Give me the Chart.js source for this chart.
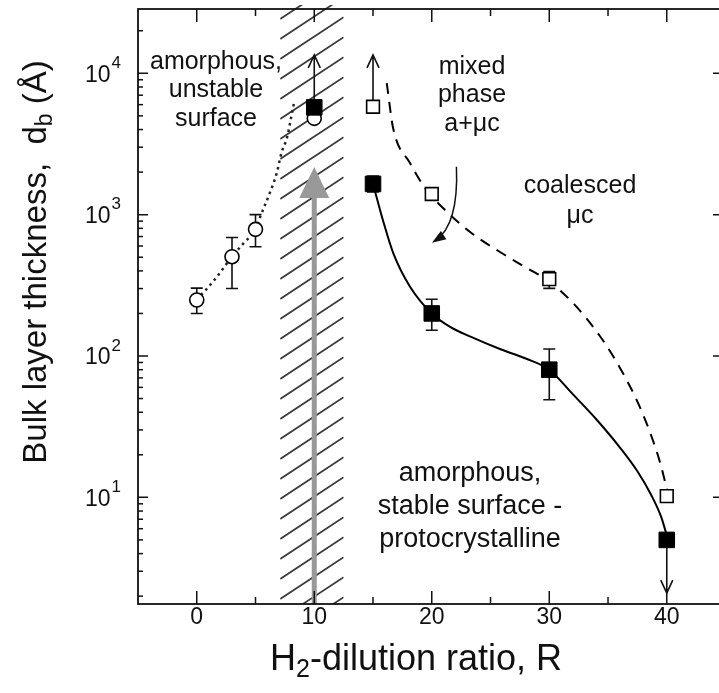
<!DOCTYPE html>
<html>
<head>
<meta charset="utf-8">
<script src="https://cdn.jsdelivr.net/npm/chart.js@4.4.1/dist/chart.umd.min.js"></script>
<style>
  html, body { margin: 0; padding: 0; background: #fff; overflow: hidden; }
</style>
</head>
<body>
<canvas id="c" width="722" height="693"></canvas>
<script>
// Data
const xTicks = [0, 10, 20, 30, 40];
const xMinor = [5, 15, 25, 35];
const yDecades = [1, 2, 3, 4];

// open circles, amorphous branch
const circleR = [0, 3, 5, 10];
const circleD = [249, 504, 787, 4800];
const circleLo = [200, 300, 593, null];
const circleHi = [302, 690, 1000, null];

// filled squares
const fillR = [10, 15, 20, 30, 40];
const fillD = [5740, 1650, 200, 80, 5];
const fillLo = [null, 1445, 152, 49, null];
const fillHi = [null, 1875, 252, 112, null];

// open squares
const openR = [15, 20, 30, 40];
const openD = [5800, 1400, 350, 10.2];
const openLo = [null, 1330, 301, null];
const openHi = [null, 1440, 395, null];

// limit arrows (from value -> to value)
const arrowR = [10, 15, 40];
const arrowFrom = [5740, 5800, 5];
const arrowTo = [13500, 13500, 2.1];

// guide curves
const dotR = [0, 1.5, 3, 4, 5, 5.4, 6.2, 6.8, 7.2, 7.7, 8.1, 8.3];
const dotD = [249, 345, 504, 630, 787, 966, 1413, 1960, 2716, 3556, 5212, 6310];
const solidR = [15, 15.9, 16.73, 18.15, 20, 21.6, 23.3, 25.8, 28, 30, 32, 34, 36, 37.5, 38.7, 39.5, 40];
const solidD = [1650, 880, 532, 309, 200, 160, 137, 112, 96, 80, 53.7, 35.7, 22.6, 15.3, 10.3, 7.36, 5.4];
const dashR = [16.17, 16.71, 18.15, 19.43, 21.13, 23.26, 25.81, 27.94, 30.07, 32.19, 34.32, 36.03, 37.56, 38.75, 39.52, 40.03];
const dashD = [8535, 4100, 2318, 1542, 1078, 754, 544, 426, 333, 229, 138, 82, 46.4, 26.3, 16.6, 11.2];

// hatched band and grey arrow
const bandR = [7.1, 12.5];
const greyArrowR = 10;
const greyArrowTop = 2170;

const FONT = '"Liberation Sans", Arial, sans-serif';
const INK = '#111';

function pts(xs, ys) {
  return xs.map((x, i) => ({ x: x, y: ys[i] }));
}

// draw text made of pieces: [text, size, dy]
function drawRich(ctx, pieces, cx, cy) {
  let total = 0;
  pieces.forEach(p => {
    ctx.font = p[1] + 'px ' + FONT;
    total += ctx.measureText(p[0]).width;
  });
  let x = cx - total / 2;
  pieces.forEach(p => {
    ctx.font = p[1] + 'px ' + FONT;
    ctx.fillText(p[0], x, cy + p[2]);
    x += ctx.measureText(p[0]).width;
  });
}

function lines(ctx, texts, cx, cy, size, gap) {
  ctx.font = size + 'px ' + FONT;
  ctx.textAlign = 'center';
  ctx.textBaseline = 'middle';
  texts.forEach((t, i) => ctx.fillText(t, cx, cy + i * gap));
}

const decor = {
  id: 'decor',
  beforeDatasetsDraw(chart) {
    const { ctx, chartArea: a, scales: { x, y } } = chart;
    ctx.save();

    // hatched band
    const bx0 = x.getPixelForValue(bandR[0]);
    const bx1 = x.getPixelForValue(bandR[1]);
    ctx.beginPath();
    ctx.rect(bx0, a.top - 4, bx1 - bx0, a.bottom - a.top + 4);
    ctx.clip();
    ctx.strokeStyle = '#3a3a3a';
    ctx.lineWidth = 1.7;
    const slope = 0.66;
    const w = bx1 - bx0;
    for (let yy = a.top - 10; yy < a.bottom + w * slope + 20; yy += 20) {
      ctx.beginPath();
      ctx.moveTo(bx0, yy);
      ctx.lineTo(bx1, yy - w * slope);
      ctx.stroke();
    }
    ctx.restore();

    // grey arrow
    ctx.save();
    const gx = x.getPixelForValue(greyArrowR);
    const gt = y.getPixelForValue(greyArrowTop);
    ctx.strokeStyle = '#999';
    ctx.fillStyle = '#999';
    ctx.lineWidth = 5;
    ctx.beginPath();
    ctx.moveTo(gx, a.bottom);
    ctx.lineTo(gx, gt + 25);
    ctx.stroke();
    ctx.beginPath();
    ctx.moveTo(gx, gt);
    ctx.lineTo(gx - 15, gt + 31);
    ctx.lineTo(gx + 15, gt + 31);
    ctx.closePath();
    ctx.fill();

    // error bars
    ctx.strokeStyle = INK;
    ctx.lineWidth = 1.6;
    const bars = (xs, lo, hi) => {
      xs.forEach((r, i) => {
        if (lo[i] == null) return;
        const px = x.getPixelForValue(r);
        const p0 = y.getPixelForValue(lo[i]);
        const p1 = y.getPixelForValue(hi[i]);
        ctx.beginPath();
        ctx.moveTo(px, p0); ctx.lineTo(px, p1);
        ctx.moveTo(px - 6, p0); ctx.lineTo(px + 6, p0);
        ctx.moveTo(px - 6, p1); ctx.lineTo(px + 6, p1);
        ctx.stroke();
      });
    };
    bars(circleR, circleLo, circleHi);
    bars(fillR, fillLo, fillHi);
    bars(openR, openLo, openHi);

    // limit arrows
    arrowR.forEach((r, i) => {
      const px = x.getPixelForValue(r);
      const p0 = y.getPixelForValue(arrowFrom[i]);
      const p1 = y.getPixelForValue(arrowTo[i]);
      const dir = p1 < p0 ? 1 : -1;
      ctx.beginPath();
      ctx.moveTo(px, p0); ctx.lineTo(px, p1);
      ctx.moveTo(px - 6, p1 + dir * 13); ctx.lineTo(px, p1); ctx.lineTo(px + 6, p1 + dir * 13);
      ctx.stroke();
    });
    ctx.restore();
  },
  afterDatasetsDraw(chart) {
    const { ctx, chartArea: a, scales: { x, y } } = chart;
    ctx.save();
    ctx.strokeStyle = INK;
    ctx.fillStyle = INK;
    ctx.lineWidth = 1.8;
    ctx.strokeRect(a.left, a.top, a.right - a.left, a.bottom - a.top);

    // x ticks, inward on bottom and top
    ctx.lineWidth = 1.5;
    const xt = (v, len) => {
      const px = x.getPixelForValue(v);
      ctx.beginPath();
      ctx.moveTo(px, a.bottom); ctx.lineTo(px, a.bottom - len);
      ctx.moveTo(px, a.top); ctx.lineTo(px, a.top + len);
      ctx.stroke();
    };
    xTicks.forEach(v => xt(v, 13));
    xMinor.forEach(v => xt(v, 7));

    // y ticks: majors and minors on left, majors on right
    for (let d = 0; d <= 4; d++) {
      for (let m = 1; m <= 9; m++) {
        const v = m * Math.pow(10, d);
        if (v < y.min || v > y.max) continue;
        const py = y.getPixelForValue(v);
        ctx.beginPath();
        ctx.moveTo(a.left, py); ctx.lineTo(a.left + (m === 1 ? 10 : 5), py);
        if (m === 1) { ctx.moveTo(a.right, py); ctx.lineTo(a.right - 9, py); }
        ctx.stroke();
      }
    }

    // tick labels
    ctx.textBaseline = 'middle';
    ctx.textAlign = 'center';
    ctx.font = '23px ' + FONT;
    xTicks.forEach(v => ctx.fillText(String(v), x.getPixelForValue(v), a.bottom + 14));

    ctx.textAlign = 'left';
    yDecades.forEach(d => {
      const py = y.getPixelForValue(Math.pow(10, d));
      ctx.font = '17px ' + FONT;
      const ew = ctx.measureText(String(d)).width;
      ctx.font = '23px ' + FONT;
      const bw = ctx.measureText('10').width;
      const x0 = 121 - ew - bw - 1;
      ctx.fillText('10', x0, py + 2);
      ctx.font = '17px ' + FONT;
      ctx.fillText(String(d), x0 + bw + 1, py - 10);
    });

    // axis titles
    ctx.textAlign = 'left';
    drawRich(ctx, [['H', 36, 0], ['2', 25, 10], ['-dilution ratio, R', 36, 0]], 416, 660);
    ctx.save();
    ctx.translate(37, 262);
    ctx.rotate(-Math.PI / 2);
    drawRich(ctx, [['Bulk layer thickness,  d', 33, 0], ['b', 23, 9], [' (\u00c5)', 33, 0]], 0, 0);
    ctx.restore();

    // region labels
    lines(ctx, ['amorphous,', 'unstable', 'surface'], 216, 62, 25, 28.5);
    lines(ctx, ['mixed', 'phase', 'a+\u03bcc'], 472, 67, 25, 28.5);
    lines(ctx, ['coalesced', '\u03bcc'], 580, 186, 25, 30);
    lines(ctx, ['amorphous,', 'stable surface -', 'protocrystalline'], 470, 474, 27, 33);

    // curved arrow from "mixed phase" label
    const sx = x.getPixelForValue(22.1), sy = y.getPixelForValue(2180);
    const cx = x.getPixelForValue(22.3), cy = y.getPixelForValue(844);
    const ex = x.getPixelForValue(20.3), ey = y.getPixelForValue(655);
    ctx.lineWidth = 1.5;
    ctx.beginPath();
    ctx.moveTo(sx, sy);
    ctx.quadraticCurveTo(cx, cy, ex, ey);
    ctx.stroke();
    const ang = Math.atan2(ey - cy, ex - cx);
    const tx = ex + Math.cos(ang) * 4, ty = ey + Math.sin(ang) * 4;
    ctx.beginPath();
    ctx.moveTo(tx, ty);
    ctx.lineTo(tx - Math.cos(ang) * 14 + Math.sin(ang) * 5, ty - Math.sin(ang) * 14 - Math.cos(ang) * 5);
    ctx.lineTo(tx - Math.cos(ang) * 14 - Math.sin(ang) * 5, ty - Math.sin(ang) * 14 + Math.cos(ang) * 5);
    ctx.closePath();
    ctx.fill();
    ctx.restore();
  }
};

const ctx = document.getElementById('c').getContext('2d');
const chart = new Chart(ctx, {
  type: 'scatter',
  data: {
    datasets: [
      {
        label: 'filled',
        data: pts(fillR, fillD),
        pointStyle: 'rect',
        pointRadius: 11,
        backgroundColor: '#000',
        borderColor: '#000',
        borderWidth: 1
      },
      {
        label: 'open squares',
        data: pts(openR, openD),
        pointStyle: 'rect',
        pointRadius: 9,
        backgroundColor: '#fff',
        borderColor: '#000',
        borderWidth: 1.6
      },
      {
        label: 'open circles',
        data: pts(circleR, circleD),
        pointStyle: 'circle',
        pointRadius: 7,
        backgroundColor: '#fff',
        borderColor: '#000',
        borderWidth: 1.6
      },
      {
        label: 'solid',
        type: 'line',
        data: pts(solidR, solidD),
        borderColor: '#000',
        borderWidth: 2,
        pointRadius: 0,
        fill: false,
        cubicInterpolationMode: 'monotone'
      },
      {
        label: 'dashed',
        type: 'line',
        data: pts(dashR, dashD),
        borderColor: '#000',
        borderWidth: 2,
        borderDash: [11, 8],
        pointRadius: 0,
        fill: false,
        cubicInterpolationMode: 'monotone'
      },
      {
        label: 'dotted',
        type: 'line',
        data: pts(dotR, dotD),
        borderColor: '#222',
        borderWidth: 2.5,
        borderDash: [2.5, 4],
        pointRadius: 0,
        fill: false,
        cubicInterpolationMode: 'monotone'
      }
    ]
  },
  options: {
    responsive: false,
    animation: false,
    layout: { autoPadding: false, padding: { left: 138, right: 0, top: 9, bottom: 89 } },
    scales: {
      x: { type: 'linear', min: -5, max: 44.7, display: false },
      y: { type: 'logarithmic', min: 1.76, max: 28500, display: false }
    },
    plugins: {
      legend: { display: false },
      tooltip: { enabled: false }
    }
  },
  plugins: [decor]
});
</script>
</body>
</html>
